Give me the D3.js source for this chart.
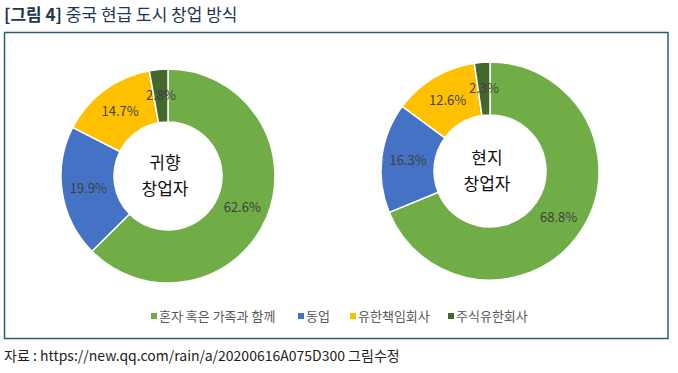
<!DOCTYPE html>
<html>
<head>
<meta charset="utf-8">
<script src="https://cdn.jsdelivr.net/npm/d3@7"></script>
<style>
  body { margin: 0; background: white; }
  svg text { font-family: "Noto Sans CJK KR", "Noto Sans", sans-serif; }
</style>
</head>
<body>
<div id="container"></div>
<script>
const width = 678;
const height = 373;

// categories (legend order) and values for each donut
const categories = ["혼자 혹은 가족과 함께", "동업", "유한책임회사", "주식유한회사"];
const colors = ["#70ad47", "#4472c4", "#ffc000", "#43682b"];
const returnValues = [62.6, 19.9, 14.7, 2.8];   // 귀향 창업자
const localValues = [68.8, 16.3, 12.6, 2.3];    // 현지 창업자
const donutNames = [["귀향", "창업자"], ["현지", "창업자"]];

let svg = d3.select("#container")
  .append("svg")
    .attr("width", width)
    .attr("height", height)
    .style("background-color", "white");

// title
let title = svg.append("text")
  .attr("x", 4)
  .attr("y", 21)
  .attr("font-size", 17)
  .attr("fill", "#1f3550");
title.append("tspan").attr("font-weight", "bold").text("[그림 4]");
title.append("tspan").text(" 중국 현급 도시 창업 방식");

// frame
svg.append("rect")
  .attr("x", 4.5)
  .attr("y", 32.5)
  .attr("width", 663.5)
  .attr("height", 306)
  .attr("fill", "white")
  .attr("stroke", "#2a5f78")
  .attr("stroke-width", 1.5);

let color = d3.scaleOrdinal().domain(categories).range(colors);

let pie = d3.pie().sort(null).value(d => d.value);

function drawDonut(values, names, cx, cy, rOuter, rInner){
  let data = categories.map((c, i) => ({ cat: c, value: values[i] }));
  let arcs = pie(data);
  let arc = d3.arc().innerRadius(rInner).outerRadius(rOuter);
  let labelArc = d3.arc().innerRadius((rInner + rOuter) / 2).outerRadius((rInner + rOuter) / 2);

  let g = svg.append("g").attr("transform", "translate(" + cx + "," + cy + ")");

  g.selectAll(".slice").data(arcs).enter().append("path")
    .attr("class", "slice")
    .attr("d", arc)
    .attr("fill", d => color(d.data.cat))
    .attr("stroke", "white")
    .attr("stroke-width", 1.5);

  g.selectAll(".lbl").data(arcs).enter().append("text")
    .attr("class", "lbl")
    .attr("transform", d => "translate(" + labelArc.centroid(d) + ")")
    .attr("text-anchor", "middle")
    .attr("dy", "0.35em")
    .attr("font-size", 13)
    .attr("fill", "#404040")
    .text(d => d.data.value.toFixed(1) + "%");

  g.selectAll(".name").data(names).enter().append("text")
    .attr("class", "name")
    .attr("x", -3)
    .attr("y", (d, i) => i * 26 - 13)
    .attr("text-anchor", "middle")
    .attr("dy", "0.35em")
    .attr("font-size", 17)
    .attr("fill", "#111")
    .text(d => d);
}

drawDonut(returnValues, donutNames[0], 168, 176, 107, 54);
drawDonut(localValues, donutNames[1], 490, 171, 109, 56);

// legend
let legendX = [151, 298, 350, 448];
let legend = svg.selectAll(".legend").data(categories).enter().append("g")
  .attr("class", "legend")
  .attr("transform", (d, i) => "translate(" + legendX[i] + ",316)");

legend.append("rect")
  .attr("x", 0)
  .attr("y", -3)
  .attr("width", 6)
  .attr("height", 6)
  .attr("fill", d => color(d));

legend.append("text")
  .attr("x", 8)
  .attr("dy", "0.35em")
  .attr("font-size", 13)
  .attr("fill", "#595959")
  .text(d => d);

// source
svg.append("text")
  .attr("x", 4)
  .attr("y", 361)
  .attr("font-size", 14)
  .attr("fill", "#222")
  .text("자료 : https://new.qq.com/rain/a/20200616A075D300  그림수정");
</script>
</body>
</html>
